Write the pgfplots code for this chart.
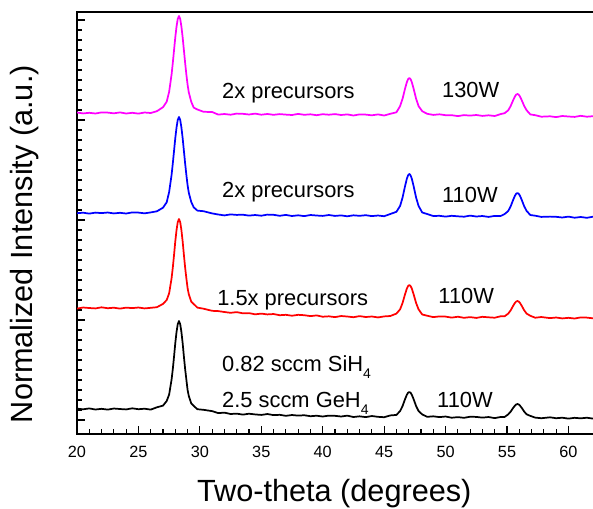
\documentclass[border=0pt]{standalone}
\usepackage{pgfplots}
\usepackage{pgfplotstable}
\pgfplotsset{compat=1.18}
\usepackage{fontspec}
\setmainfont{Liberation Sans}
\definecolor{tmag}{RGB}{255,0,255}
\definecolor{tblue}{RGB}{0,0,255}
\definecolor{tred}{RGB}{255,0,0}
\newcommand\ann{\fontsize{16.4}{18}\selectfont}
\newcommand\lowsub[1]{\raisebox{-5.6pt}{\fontsize{10.5}{12}\selectfont #1}}

% two-theta, then the four offset patterns (black, red, blue, magenta)
\pgfplotstableread{
x k r b m
20 0.114 1.114 2.068 3.075
20.5 0.107 1.125 2.073 3.066
21 0.116 1.120 2.064 3.072
21.5 0.105 1.116 2.074 3.065
22 0.112 1.127 2.069 3.076
22.5 0.104 1.118 2.075 3.074
23 0.115 1.123 2.066 3.067
23.5 0.110 1.114 2.072 3.076
24 0.106 1.124 2.065 3.065
24.5 0.117 1.119 2.076 3.072
25 0.108 1.125 2.074 3.064
25.5 0.113 1.116 2.067 3.075
26 0.104 1.122 2.076 3.070
26.5 0.127 1.128 2.087 3.088
27 0.144 1.161 2.123 3.128
27.3 0.190 1.200 2.177 3.183
27.5 0.255 1.267 2.280 3.282
27.7 0.406 1.419 2.453 3.457
27.8 0.512 1.527 2.568 3.573
27.9 0.636 1.652 2.693 3.700
28.0 0.769 1.786 2.818 3.826
28.1 0.879 1.898 2.924 3.933
28.2 0.959 1.979 3.001 4.011
28.3 0.990 2.010 3.030 4.040
28.4 0.959 1.979 3.001 4.011
28.5 0.879 1.898 2.924 3.933
28.6 0.769 1.786 2.818 3.826
28.7 0.636 1.652 2.693 3.700
28.8 0.512 1.527 2.568 3.573
28.9 0.406 1.419 2.453 3.457
29.0 0.302 1.320 2.349 3.354
29.1 0.240 1.257 2.272 3.276
29.3 0.166 1.183 2.180 3.182
29.5 0.141 1.160 2.127 3.124
29.8 0.108 1.124 2.094 3.105
30.3 0.102 1.113 2.088 3.082
31 0.089 1.092 2.066 3.080
31.5 0.069 1.089 2.055 3.054
32 0.074 1.080 2.046 3.060
32.5 0.060 1.072 2.056 3.053
33 0.064 1.079 2.051 3.064
33.5 0.054 1.067 2.053 3.062
34 0.063 1.069 2.044 3.055
34.5 0.056 1.057 2.050 3.064
35 0.051 1.064 2.043 3.053
35.5 0.060 1.056 2.054 3.060
36 0.049 1.060 2.052 3.052
36.5 0.052 1.048 2.042 3.059
37 0.042 1.052 2.051 3.054
37.5 0.050 1.043 2.040 3.050
38 0.044 1.052 2.047 3.061
38.5 0.048 1.048 2.039 3.052
39 0.038 1.039 2.050 3.057
39.5 0.043 1.046 2.045 3.048
40 0.035 1.033 2.041 3.058
40.5 0.044 1.037 2.050 3.053
41 0.042 1.029 2.041 3.059
41.5 0.035 1.040 2.046 3.050
42 0.044 1.035 2.037 3.056
42.5 0.030 1.028 2.047 3.045
43 0.037 1.039 2.042 3.056
43.5 0.029 1.030 2.048 3.054
44 0.040 1.035 2.039 3.047
44.5 0.032 1.026 2.045 3.056
45 0.028 1.036 2.038 3.045
45.5 0.046 1.040 2.060 3.062
46.0 0.051 1.064 2.082 3.077
46.3 0.090 1.107 2.141 3.139
46.5 0.140 1.171 2.225 3.213
46.7 0.208 1.257 2.338 3.313
46.85 0.253 1.315 2.414 3.379
46.95 0.273 1.340 2.447 3.409
47.05 0.280 1.350 2.460 3.420
47.15 0.273 1.340 2.447 3.409
47.25 0.253 1.315 2.414 3.379
47.4 0.208 1.257 2.338 3.313
47.6 0.140 1.171 2.225 3.213
47.8 0.090 1.107 2.141 3.139
48.1 0.056 1.055 2.075 3.088
48.5 0.032 1.043 2.060 3.062
49 0.037 1.029 2.040 3.051
49.5 0.029 1.036 2.042 3.057
50 0.035 1.034 2.034 3.048
50.5 0.023 1.024 2.042 3.048
51 0.029 1.033 2.037 3.039
51.5 0.022 1.022 2.033 3.049
52 0.033 1.029 2.044 3.044
52.5 0.031 1.021 2.035 3.050
53 0.024 1.032 2.040 3.041
53.5 0.030 1.027 2.031 3.047
54 0.019 1.023 2.041 3.040
54.5 0.031 1.038 2.041 3.060
54.8 0.030 1.037 2.059 3.068
55.1 0.057 1.064 2.090 3.097
55.3 0.084 1.097 2.137 3.140
55.5 0.121 1.142 2.201 3.198
55.65 0.145 1.172 2.244 3.236
55.75 0.156 1.185 2.263 3.254
55.85 0.160 1.190 2.270 3.260
55.95 0.156 1.185 2.263 3.254
56.05 0.145 1.172 2.244 3.236
56.2 0.121 1.142 2.201 3.198
56.4 0.084 1.097 2.137 3.140
56.6 0.057 1.064 2.090 3.097
56.9 0.041 1.042 2.050 3.056
57.3 0.024 1.023 2.043 3.048
57.8 0.018 1.030 2.031 3.033
58.5 0.027 1.019 2.034 3.037
59 0.018 1.025 2.032 3.029
59.5 0.023 1.016 2.025 3.040
60 0.014 1.022 2.034 3.035
60.5 0.022 1.015 2.023 3.031
61 0.017 1.026 2.030 3.042
61.5 0.023 1.024 2.022 3.033
62 0.014 1.017 2.033 3.038
}\xrd

\begin{document}
\begin{tikzpicture}
\begin{axis}[
  name=ax, scale only axis,
  width=396.2pt, height=316.5pt,
  xmin=20, xmax=63, ymin=-0.14, ymax=4.08,
  xtick={20,25,...,60}, minor x tick num=4,
  ytick={0,1,2,3,4}, minor y tick num=9, yticklabels={},
  tick pos=left, tick align=inside,
  major tick length=6pt, minor tick length=3.5pt,
  every tick/.style={black, line width=0.9pt},
  axis line style={line width=1.4pt},
  /pgf/number format/assume math mode=true,
  tick label style={font=\fontsize{12.2}{14}\selectfont},
  xticklabel style={yshift=-5.7pt},
  xlabel={Two-theta (degrees)},
  ylabel={Normalized Intensity (a.u.)},
  xlabel style={font=\fontsize{23}{26}\selectfont,
    at={(axis description cs:0.487,-0.161)}, anchor=base},
  ylabel style={font=\fontsize{23}{26}\selectfont,
    at={(axis description cs:-0.0833,0.45)}, anchor=base},
  every axis plot/.append style={line width=1.3pt, line join=round},
]
\addplot[black] table[x=x, y=k]{\xrd};
\addplot[tred] table[x=x, y=r]{\xrd};
\addplot[tblue] table[x=x, y=b]{\xrd};
\addplot[tmag] table[x=x, y=m]{\xrd};

\node[anchor=base west, inner sep=0, font=\ann] at (axis cs:31.8,3.22) {2x precursors};
\node[anchor=base west, inner sep=0, font=\ann] at (axis cs:49.7,3.23) {130W};
\node[anchor=base west, inner sep=0, font=\ann] at (axis cs:31.8,2.23) {2x precursors};
\node[anchor=base west, inner sep=0, font=\ann] at (axis cs:49.7,2.18) {110W};
\node[anchor=base west, inner sep=0, font=\ann] at (axis cs:31.4,1.15) {1.5x precursors};
\node[anchor=base west, inner sep=0, font=\ann] at (axis cs:49.4,1.17) {110W};
\node[anchor=base west, inner sep=0, font=\ann] at (axis cs:31.8,0.49) {0.82 sccm SiH\lowsub{4}};
\node[anchor=base west, inner sep=0, font=\ann] at (axis cs:31.8,0.13) {2.5 sccm GeH\lowsub{4}};
\node[anchor=base west, inner sep=0, font=\ann] at (axis cs:49.3,0.13) {110W};

\coordinate (tr) at (axis cs:62,4.08);
\end{axis}
\pgfresetboundingbox
\path ([xshift=-57.75pt, yshift=-55.5pt]ax.south west) rectangle ([yshift=9pt]tr);
\end{tikzpicture}
\end{document}
